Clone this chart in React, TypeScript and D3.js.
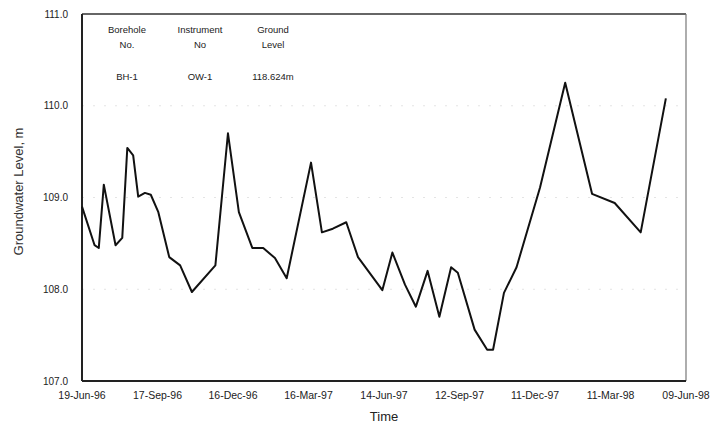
import React, { useRef, useEffect } from "react";
import * as d3 from "d3";

const dates: string[] = [
  "1996-06-19", "1996-07-04", "1996-07-09", "1996-07-15", "1996-07-29",
  "1996-08-06", "1996-08-12", "1996-08-19", "1996-08-25", "1996-09-02",
  "1996-09-09", "1996-09-18", "1996-10-01", "1996-10-14", "1996-10-28",
  "1996-11-25", "1996-12-10", "1996-12-23", "1997-01-08", "1997-01-21",
  "1997-02-04", "1997-02-18", "1997-03-19", "1997-04-01", "1997-04-14",
  "1997-04-30", "1997-05-14", "1997-06-12", "1997-06-24", "1997-07-09",
  "1997-07-22", "1997-08-05", "1997-08-19", "1997-09-02", "1997-09-10",
  "1997-09-30", "1997-10-15", "1997-10-22", "1997-11-04", "1997-11-19",
  "1997-12-17", "1998-01-16", "1998-02-17", "1998-03-16", "1998-04-16",
  "1998-05-16",
];

const levels: number[] = [
  108.9, 108.48, 108.45, 109.14, 108.48,
  108.56, 109.54, 109.46, 109.01, 109.05,
  109.03, 108.84, 108.35, 108.26, 107.97,
  108.26, 109.7, 108.84, 108.45, 108.45,
  108.34, 108.12, 109.38, 108.62, 108.66,
  108.73, 108.35, 107.99, 108.4, 108.05,
  107.81, 108.2, 107.7, 108.24, 108.18,
  107.56, 107.34, 107.34, 107.96, 108.24,
  109.11, 110.25, 109.04, 108.94, 108.62,
  110.08,
];

const xTickDates: string[] = [
  "1996-06-19", "1996-09-17", "1996-12-16", "1997-03-16", "1997-06-14",
  "1997-09-12", "1997-12-11", "1998-03-11", "1998-06-09",
];
const xTickLabels: string[] = [
  "19-Jun-96", "17-Sep-96", "16-Dec-96", "16-Mar-97", "14-Jun-97",
  "12-Sep-97", "11-Dec-97", "11-Mar-98", "09-Jun-98",
];
const yTicks: number[] = [107, 108, 109, 110, 111];

const headerCols: string[][] = [
  ["Borehole", "No.", "BH-1"],
  ["Instrument", "No", "OW-1"],
  ["Ground", "Level", "118.624m"],
];

interface DataPoint {
  date: Date;
  value: number;
}

export default function App() {
  const svgRef = useRef(null);
  const width = 728;
  const height = 427;
  const margin = { top: 14, right: 42, bottom: 46, left: 82 };

  useEffect(() => {
    const svg = d3.select(svgRef.current);
    svg.selectAll("*").remove();

    const innerWidth = width - margin.left - margin.right;
    const innerHeight = height - margin.top - margin.bottom;
    const font = "'Liberation Sans', Arial, sans-serif";

    const data: DataPoint[] = dates.map((d, i) => ({
      date: new Date(d + "T00:00:00"),
      value: levels[i],
    }));

    const x = d3
      .scaleTime()
      .domain([new Date("1996-06-19T00:00:00"), new Date("1998-06-09T00:00:00")])
      .range([0, innerWidth]);

    const y = d3.scaleLinear().domain([107, 111]).range([innerHeight, 0]);

    const g = svg
      .append("g")
      .attr("transform", `translate(${margin.left},${margin.top})`);

    // faint dotted grid (scan remnants)
    g.selectAll(".grid")
      .data(yTicks.slice(1, 4))
      .enter()
      .append("line")
      .attr("x1", 0)
      .attr("x2", innerWidth)
      .attr("y1", (d) => y(d))
      .attr("y2", (d) => y(d))
      .attr("stroke", "#e4e4e4")
      .attr("stroke-width", 1)
      .attr("stroke-dasharray", "2,9");

    // frame
    g.append("line")
      .attr("x1", 0).attr("x2", innerWidth).attr("y1", 0).attr("y2", 0)
      .attr("stroke", "#333").attr("stroke-width", 1.6);
    g.append("line")
      .attr("x1", innerWidth).attr("x2", innerWidth).attr("y1", 0).attr("y2", innerHeight)
      .attr("stroke", "#777").attr("stroke-width", 1.2);
    g.append("line")
      .attr("x1", 0).attr("x2", innerWidth).attr("y1", innerHeight).attr("y2", innerHeight)
      .attr("stroke", "#222").attr("stroke-width", 2);
    g.append("line")
      .attr("x1", 0).attr("x2", 0).attr("y1", 0).attr("y2", innerHeight)
      .attr("stroke", "#222").attr("stroke-width", 2);

    // y tick labels
    g.selectAll(".ytick")
      .data(yTicks)
      .enter()
      .append("text")
      .attr("x", -14)
      .attr("y", (d) => y(d))
      .attr("dy", "0.35em")
      .attr("text-anchor", "end")
      .attr("font-family", font)
      .attr("font-size", 10)
      .attr("fill", "#222")
      .text((d) => d.toFixed(1));

    // x tick labels
    g.selectAll(".xtick")
      .data(xTickDates)
      .enter()
      .append("text")
      .attr("x", (d) => x(new Date(d + "T00:00:00")))
      .attr("y", innerHeight + 18)
      .attr("text-anchor", "middle")
      .attr("font-family", font)
      .attr("font-size", 10.5)
      .attr("fill", "#222")
      .text((d, i) => xTickLabels[i]);

    // series
    const line = d3
      .line<DataPoint>()
      .x((d) => x(d.date))
      .y((d) => y(d.value));

    g.append("path")
      .datum(data)
      .attr("fill", "none")
      .attr("stroke", "#111")
      .attr("stroke-width", 2)
      .attr("stroke-linejoin", "round")
      .attr("d", line);

    // header block
    const headerX = [45, 118, 191];
    headerCols.forEach((col, i) => {
      [19, 34, 66].forEach((yy, j) => {
        g.append("text")
          .attr("x", headerX[i])
          .attr("y", yy)
          .attr("text-anchor", "middle")
          .attr("font-family", font)
          .attr("font-size", 9.5)
          .attr("fill", "#222")
          .text(col[j]);
      });
    });

    // axis titles
    svg.append("text")
      .attr("transform", `translate(23,${margin.top + innerHeight / 2 - 6}) rotate(-90)`)
      .attr("text-anchor", "middle")
      .attr("font-family", font)
      .attr("font-size", 13)
      .attr("fill", "#333")
      .text("Groundwater Level, m");

    svg.append("text")
      .attr("x", 384)
      .attr("y", 421)
      .attr("text-anchor", "middle")
      .attr("font-family", font)
      .attr("font-size", 13)
      .attr("fill", "#222")
      .text("Time");
  }, []);

  return (
    <svg
      ref={svgRef}
      width={width}
      height={height}
      style={{ position: "absolute", left: 0, top: 0, background: "#fff" }}
    ></svg>
  );
}
